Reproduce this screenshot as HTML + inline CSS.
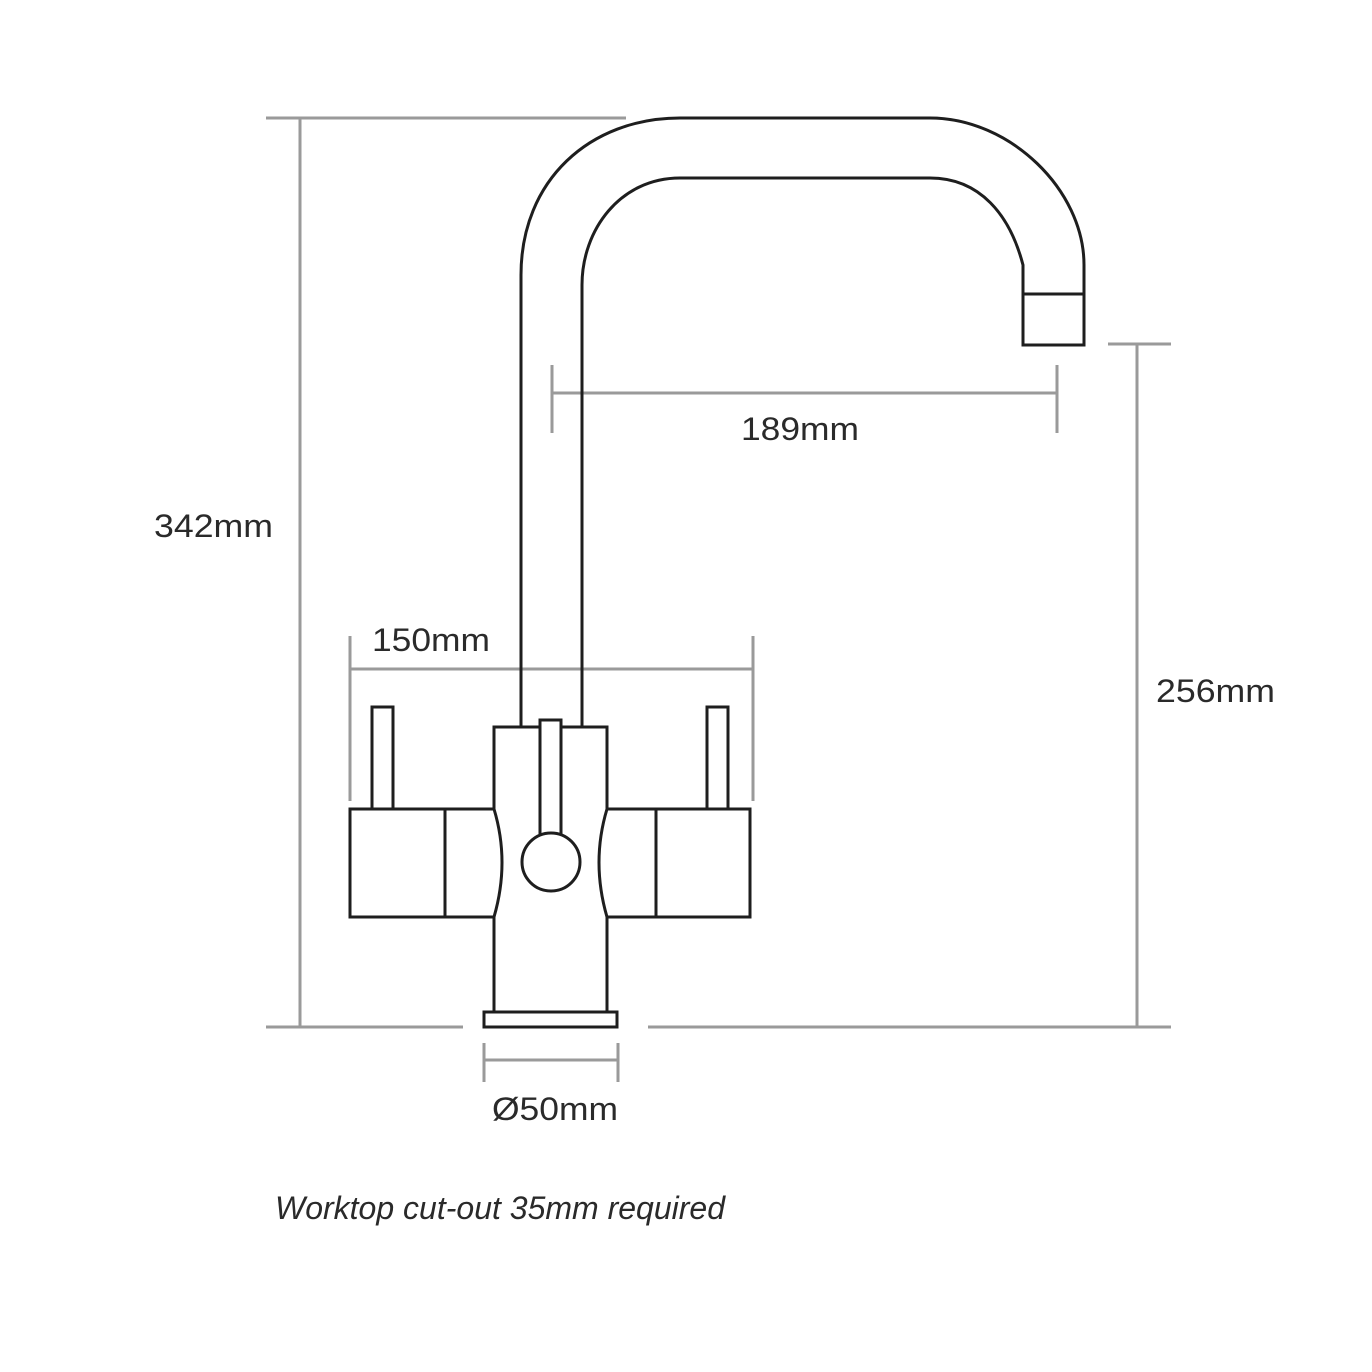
<!DOCTYPE html>
<html><head><style>
html,body{margin:0;padding:0;background:#fff;}
svg{display:block;}
text{font-family:"Liberation Sans",sans-serif;fill:#2a2a2a;font-size:32px;}
</style></head><body>
<svg width="1372" height="1372" viewBox="0 0 1372 1372" xmlns="http://www.w3.org/2000/svg">
<g stroke="#9a9a9a" stroke-width="3" fill="none">
<line x1="266" y1="118" x2="626" y2="118"/>
<line x1="300" y1="118" x2="300" y2="1027"/>
<line x1="266" y1="1027" x2="463" y2="1027"/>
<line x1="648" y1="1027" x2="1171" y2="1027"/>
<line x1="1108" y1="344" x2="1171" y2="344"/>
<line x1="1137" y1="344" x2="1137" y2="1027"/>
<line x1="552" y1="393" x2="1057" y2="393"/>
<line x1="552" y1="365" x2="552" y2="433"/>
<line x1="1057" y1="365" x2="1057" y2="433"/>
<line x1="350" y1="669" x2="753" y2="669"/>
<line x1="350" y1="636" x2="350" y2="801"/>
<line x1="753" y1="636" x2="753" y2="801"/>
<line x1="484" y1="1060" x2="618" y2="1060"/>
<line x1="484" y1="1043" x2="484" y2="1082"/>
<line x1="618" y1="1043" x2="618" y2="1082"/>
</g>
<g stroke="#1e1e1e" stroke-width="3" fill="none">
<path d="M521 727 V275 C521 180 590 118 680 118 H930 C1010 118 1084 190 1084 265 V345 H1023 V265 C1010 215 980 178 930 178 H680 C620 178 582 230 582 285 V727" />
<line x1="1023" y1="294" x2="1084" y2="294"/>
<rect x="372" y="707" width="21" height="102" fill="#fff"/>
<rect x="707" y="707" width="21" height="102" fill="#fff"/>
<path d="M494 727 H607 V809 Q591 862 607 917 V1012 H494 V917 Q510 862 494 809 Z" fill="#fff"/>
<path d="M494 809 H350 V917 H494"/>
<line x1="445" y1="809" x2="445" y2="917"/>
<path d="M607 809 H750 V917 H607"/>
<line x1="656" y1="809" x2="656" y2="917"/>
<rect x="540" y="720" width="21" height="115" fill="#fff"/>
<circle cx="551" cy="862" r="29" fill="#fff"/>
<rect x="484" y="1012" width="133" height="15" fill="#fff"/>
</g>
<text x="154" y="537" textLength="119" lengthAdjust="spacingAndGlyphs">342mm</text>
<text x="372" y="651" textLength="118" lengthAdjust="spacingAndGlyphs">150mm</text>
<text x="741" y="440" textLength="118" lengthAdjust="spacingAndGlyphs">189mm</text>
<text x="1156" y="702" textLength="119" lengthAdjust="spacingAndGlyphs">256mm</text>
<text x="492" y="1120" textLength="126" lengthAdjust="spacingAndGlyphs">Ø50mm</text>
<text x="275" y="1219" font-style="italic" font-size="30" textLength="450" lengthAdjust="spacingAndGlyphs">Worktop cut-out 35mm required</text>
</svg>
</body></html>
